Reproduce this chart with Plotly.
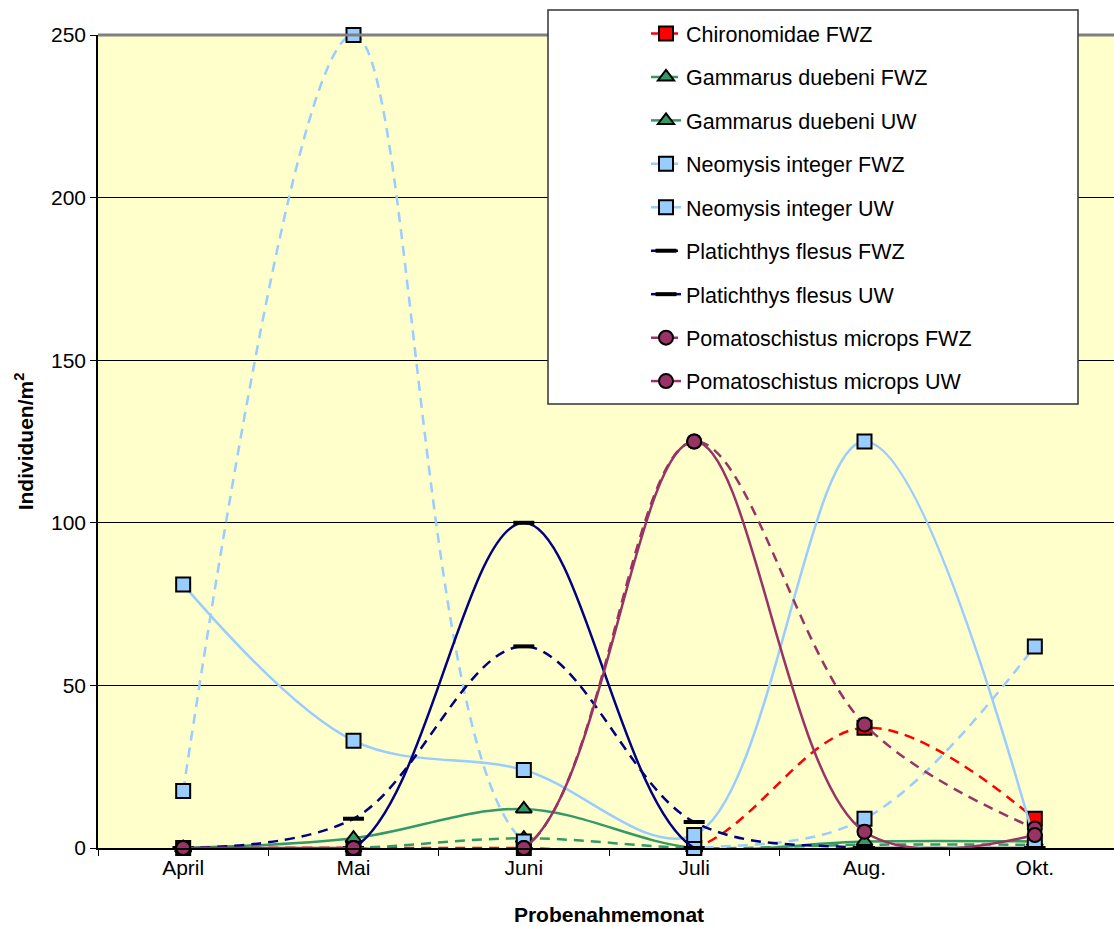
import plotly.graph_objects as go

months = ["April", "Mai", "Juni", "Juli", "Aug.", "Okt."]

chironomidae_fwz = [0, 0, 0, 0, 37, 9]
gammarus_fwz = [0, 0, 3, 0, 1, 1]
gammarus_uw = [0, 3, 12, 0, 2, 2]
neomysis_fwz = [17.5, 250, 2, 0, 9, 62]
neomysis_uw = [81, 33, 24, 4, 125, 2]
platichthys_fwz = [0, 9, 62, 8, 0, 0]
platichthys_uw = [0, 0, 100, 0, 0, 0]
pomatoschistus_fwz = [0, 0, 0, 125, 38, 6]
pomatoschistus_uw = [0, 0, 0, 125, 5, 4]

series = [
    ("Chironomidae FWZ", chironomidae_fwz, "#FF0000", "square", True),
    ("Gammarus duebeni FWZ", gammarus_fwz, "#339966", "triangle-up", True),
    ("Gammarus duebeni UW", gammarus_uw, "#339966", "triangle-up", False),
    ("Neomysis integer FWZ", neomysis_fwz, "#99CCFF", "square", True),
    ("Neomysis integer UW", neomysis_uw, "#99CCFF", "square", False),
    ("Platichthys flesus FWZ", platichthys_fwz, "#000080", "line-ew", True),
    ("Platichthys flesus UW", platichthys_uw, "#000080", "line-ew", False),
    ("Pomatoschistus microps FWZ", pomatoschistus_fwz, "#993366", "circle", True),
    ("Pomatoschistus microps UW", pomatoschistus_uw, "#993366", "circle", False),
]

FONT = "Liberation Sans, Arial, sans-serif"
fig = go.Figure()
for i, (name, vals, color, sym, dashed) in enumerate(series):
    if sym == "line-ew":
        marker = dict(symbol="line-ew", size=15, line=dict(color="black", width=4))
    else:
        marker = dict(symbol=sym, size=14, color=color,
                      line=dict(color="black", width=2))
    fig.add_trace(go.Scatter(
        x=months, y=vals, name=name, mode="lines+markers",
        line=dict(color=color, width=2.5, shape="spline", smoothing=1,
                  dash="10px,7px" if dashed else "solid"),
        marker=marker, cliponaxis=False, legendgroup=f"g{i}",
    ))

FIG_W, FIG_H = 1120, 926
W0, W1 = 98, 1120
T, B = 35, 848
def px_x(p):
    return (p - W0) / (W1 - W0)
def px_y(p):
    return (B - p) / (B - T)

fig.update_layout(
    width=FIG_W, height=FIG_H,
    margin=dict(l=W0, r=FIG_W - W1, t=T, b=FIG_H - B),
    paper_bgcolor="white", plot_bgcolor="#FFFFCC",
    font=dict(family=FONT, size=21, color="black"),
    showlegend=True,
    legend=dict(
        x=px_x(646), y=px_y(13), xanchor="left", yanchor="top",
        bgcolor="rgba(0,0,0,0)", borderwidth=0,
        font=dict(family=FONT, size=21.5, color="black"),
        traceorder="grouped", tracegroupgap=12.5,
    ),
    xaxis=dict(
        range=[-0.5, 5.5], showline=True, linecolor="black", linewidth=1.5,
        ticks="outside", tickson="boundaries", ticklen=6, tickcolor="black",
        showgrid=False, zeroline=False,
        title=dict(text="<b>Probenahmemonat</b>", font=dict(size=21), standoff=29),
    ),
    yaxis=dict(
        range=[0, 250], tickvals=[0, 50, 100, 150, 200, 250],
        showline=True, linecolor="black", linewidth=1.5,
        ticks="outside", ticklen=6, tickcolor="black",
        showgrid=True, gridcolor="black", gridwidth=1, zeroline=False,
        title=dict(text="<b>Individuen/m<sup>2</sup></b>", font=dict(size=21), standoff=12),
    ),
    shapes=[
        dict(type="line", xref="paper", yref="paper", x0=0, x1=1, y0=1, y1=1,
             line=dict(color="#808080", width=3), layer="above"),
        dict(type="rect", xref="paper", yref="paper",
             x0=px_x(548), x1=px_x(1078), y0=px_y(404), y1=px_y(10),
             fillcolor="white", line=dict(color="#333333", width=1.5), layer="above"),
    ],
)

fig.write_html("out.html", config={"displayModeBar": False},
               post_script="document.body.style.margin='0';document.body.style.overflow='hidden';")
